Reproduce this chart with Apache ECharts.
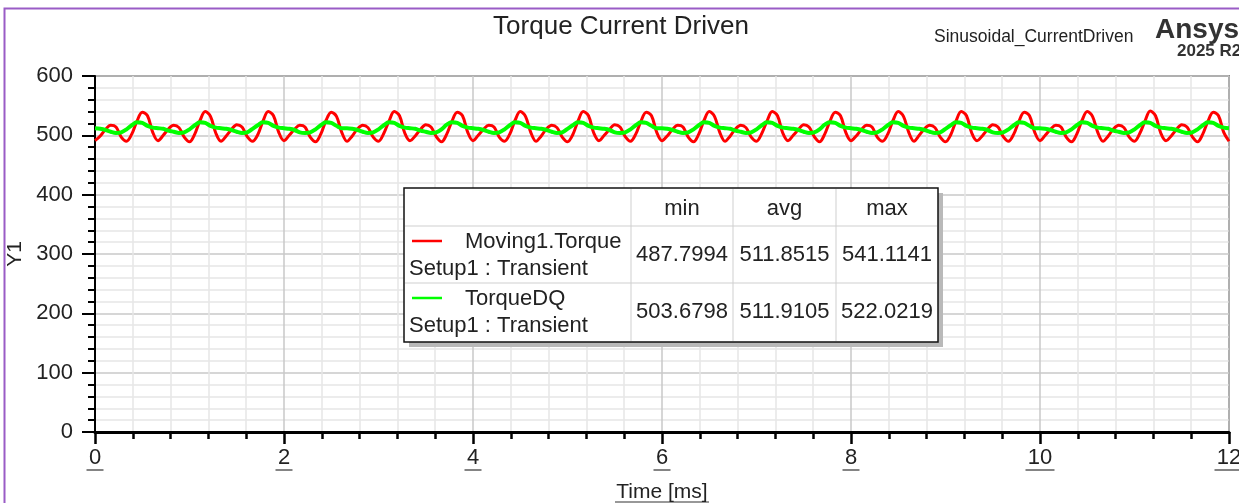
<!DOCTYPE html>
<html>
<head>
<meta charset="utf-8">
<title>Torque Current Driven</title>
<script src="https://cdn.jsdelivr.net/npm/echarts@6.0.0/dist/echarts.min.js"></script>
<style>
  html, body { margin: 0; padding: 0; background: #fff; }
  #chart { width: 1239px; height: 503px; }
</style>
</head>
<body>
<div id="chart"></div>
<script>
// samples per ms (sampling grid of the exported traces)
const samplesPerMs = 18;

// Moving1.Torque, one row per electrical period (0.667 ms)
const movingTorque = [
  491, 499, 510, 517, 514, 497, 490, 502, 524, 539, 533, 505,
  491, 500, 511, 517, 513, 497, 489, 502, 525, 540, 532, 504,
  490, 499, 510, 518, 514, 498, 490, 501, 524, 540, 533, 505,
  491, 500, 510, 517, 514, 497, 489, 502, 525, 539, 532, 505,
  490, 499, 511, 517, 513, 497, 490, 503, 524, 540, 533, 504,
  491, 499, 510, 518, 514, 498, 489, 502, 524, 539, 533, 505,
  491, 500, 510, 517, 514, 497, 490, 502, 525, 540, 532, 505,
  490, 499, 511, 517, 513, 497, 489, 501, 524, 540, 533, 504,
  491, 500, 510, 518, 514, 498, 490, 502, 524, 539, 533, 505,
  491, 499, 510, 517, 514, 497, 489, 502, 525, 540, 532, 505,
  490, 499, 511, 517, 513, 497, 490, 503, 524, 540, 533, 504,
  491, 500, 510, 518, 514, 498, 489, 502, 524, 539, 533, 505,
  491, 499, 510, 517, 514, 497, 490, 502, 525, 540, 532, 505,
  490, 500, 511, 517, 513, 497, 489, 501, 524, 540, 533, 504,
  491, 499, 510, 518, 514, 498, 490, 502, 524, 539, 533, 505,
  491, 500, 510, 517, 514, 497, 489, 502, 525, 540, 532, 505,
  490, 499, 511, 517, 513, 497, 490, 503, 524, 541, 533, 504,
  491, 499, 510, 518, 514, 498, 489, 502, 524, 539, 533, 505,
  490
];

// TorqueDQ
const torqueDQ = [
  512, 511, 509, 506, 504, 505, 510, 517, 522, 521, 516, 513,
  512, 511, 508, 506, 504, 505, 510, 517, 522, 521, 516, 513,
  512, 511, 509, 506, 504, 505, 511, 517, 522, 521, 516, 513,
  512, 511, 509, 505, 504, 505, 510, 517, 522, 521, 516, 512,
  512, 511, 509, 506, 504, 505, 510, 517, 522, 521, 516, 513,
  512, 511, 508, 506, 504, 505, 510, 518, 522, 521, 516, 513,
  512, 511, 509, 506, 504, 505, 510, 517, 522, 521, 516, 513,
  512, 511, 509, 506, 504, 505, 511, 517, 522, 521, 516, 513,
  512, 511, 509, 505, 504, 505, 510, 517, 522, 521, 516, 512,
  512, 511, 509, 506, 504, 505, 510, 517, 522, 521, 516, 513,
  512, 511, 508, 506, 504, 505, 510, 517, 522, 521, 516, 513,
  512, 511, 509, 506, 504, 505, 510, 518, 522, 521, 516, 513,
  512, 511, 509, 506, 504, 505, 510, 517, 522, 521, 516, 513,
  512, 511, 509, 506, 504, 505, 511, 517, 522, 521, 516, 513,
  512, 511, 509, 505, 504, 505, 510, 517, 522, 521, 516, 512,
  512, 511, 509, 506, 504, 505, 510, 517, 522, 521, 516, 513,
  512, 511, 508, 506, 504, 505, 510, 517, 522, 521, 516, 513,
  512, 511, 509, 506, 504, 505, 510, 517, 522, 521, 516, 513,
  512
];

const traceNames = ['Moving1.Torque', 'TorqueDQ'];
const traceColors = ['#ff0000', '#00ff00'];
const setupName = 'Setup1 : Transient';
const statHeaders = ['min', 'avg', 'max'];
const movingStats = ['487.7994', '511.8515', '541.1141'];
const dqStats = ['503.6798', '511.9105', '522.0219'];
const xMajorTicks = [0, 2, 4, 6, 8, 10, 12];

const font = '"Liberation Sans", Arial, sans-serif';

let chart = echarts.init(document.getElementById('chart'));

function toPairs(arr) {
  return arr.map((v, i) => [i / samplesPerMs, v]);
}

// legend table drawn as graphic
function buildTable() {
  const x0 = 404, y0 = 188, w = 534, h = 154;
  const cols = [631, 733, 836];
  const rows = [226, 283];
  const items = [];
  items.push({ type: 'rect', shape: { x: x0 + 5, y: y0 + 5, width: w, height: h }, style: { fill: '#b9b9b9' }, z: 10 });
  items.push({ type: 'rect', shape: { x: x0, y: y0, width: w, height: h }, style: { fill: '#fff', stroke: '#111', lineWidth: 1.5 }, z: 11 });
  cols.forEach(cx => items.push({ type: 'line', shape: { x1: cx, y1: y0 + 1, x2: cx, y2: y0 + h - 1 }, style: { stroke: '#cfcfcf', lineWidth: 1 }, z: 12 }));
  rows.forEach(ry => items.push({ type: 'line', shape: { x1: x0 + 1, y1: ry, x2: x0 + w - 1, y2: ry }, style: { stroke: '#cfcfcf', lineWidth: 1 }, z: 12 }));
  const centers = [682, 784.5, 887];
  const txt = (t, x, y, align) => ({
    type: 'text', x: x, y: y, z: 13,
    style: { text: t, fill: '#222', font: '22px ' + font, textAlign: align || 'center', textVerticalAlign: 'middle' }
  });
  statHeaders.forEach((t, i) => items.push(txt(t, centers[i], 209)));
  const rowInfo = [
    { name: traceNames[0], color: traceColors[0], stats: movingStats, top: 226 },
    { name: traceNames[1], color: traceColors[1], stats: dqStats, top: 283 }
  ];
  rowInfo.forEach(r => {
    items.push({ type: 'line', shape: { x1: 412, y1: r.top + 15, x2: 442, y2: r.top + 15 }, style: { stroke: r.color, lineWidth: 2.5 }, z: 13 });
    items.push(txt(r.name, 465, r.top + 16, 'left'));
    items.push(txt(setupName, 409, r.top + 43, 'left'));
    r.stats.forEach((s, i) => items.push(txt(s, centers[i], r.top + 29)));
  });
  return items;
}

const option = {
  animation: false,
  backgroundColor: '#fff',
  title: {
    text: 'Torque Current Driven',
    left: 616,
    top: 9,
    textAlign: 'center',
    textStyle: { fontFamily: font, fontSize: 26, fontWeight: 'normal', color: '#222' }
  },
  grid: {
    left: 95, right: 10, top: 76, bottom: 71,
    outerBoundsMode: 'none',
    containLabel: false,
    show: true, borderColor: '#333', borderWidth: 1.5, backgroundColor: 'transparent'
  },
  xAxis: {
    type: 'value',
    min: 0, max: 12, interval: 2,
    name: 'Time [ms]',
    nameLocation: 'middle',
    nameGap: 50,
    nameTextStyle: { fontFamily: font, fontSize: 21, color: '#222' },
    axisLine: { onZero: false, lineStyle: { color: '#000', width: 3 } },
    axisTick: { show: true, length: 12, lineStyle: { color: '#000', width: 2.5 } },
    minorTick: { show: true, splitNumber: 5, length: 7, lineStyle: { color: '#000', width: 2.5 } },
    axisLabel: { margin: 15, fontFamily: font, fontSize: 22, color: '#222' },
    splitLine: { show: true, lineStyle: { color: '#c8c8c8', width: 1.5 } },
    minorSplitLine: { show: true, lineStyle: { color: '#e6e6e6', width: 1.5 } }
  },
  yAxis: {
    type: 'value',
    min: 0, max: 600, interval: 100,
    name: 'Y1',
    nameLocation: 'middle',
    nameGap: 58,
    nameRotate: 90,
    nameTextStyle: { fontFamily: font, fontSize: 21, color: '#222' },
    axisLine: { show: true, onZero: false, lineStyle: { color: '#000', width: 2 } },
    axisTick: { show: true, length: 13, lineStyle: { color: '#000', width: 2 } },
    minorTick: { show: true, splitNumber: 5, length: 7, lineStyle: { color: '#000', width: 2 } },
    axisLabel: { margin: 22, fontFamily: font, fontSize: 22, color: '#222', padding: [5, 0, 0, 0] },
    splitLine: { show: true, lineStyle: { color: '#c8c8c8', width: 1.5 } },
    minorSplitLine: { show: true, lineStyle: { color: '#e6e6e6', width: 1.5 } }
  },
  series: [
    {
      name: traceNames[0], type: 'line', data: toPairs(movingTorque),
      showSymbol: false, smooth: 0.35, z: 3,
      lineStyle: { color: traceColors[0], width: 3 }
    },
    {
      name: traceNames[1], type: 'line', data: toPairs(torqueDQ),
      showSymbol: false, smooth: 0.35, z: 4,
      lineStyle: { color: traceColors[1], width: 4 }
    }
  ],
  graphic: []
};

chart.setOption(option);

// underlines under x tick labels and axis name, placed via the axis scale
const extras = [];
xMajorTicks.forEach(v => {
  const px = chart.convertToPixel({ xAxisIndex: 0 }, v);
  const hw = (String(v).length * 12 + 5) / 2;
  extras.push({ type: 'line', shape: { x1: px - hw, y1: 470, x2: px + hw, y2: 470 }, style: { stroke: '#333', lineWidth: 1.2 } });
});
const midPx = chart.convertToPixel({ xAxisIndex: 0 }, 6);
extras.push({ type: 'line', shape: { x1: midPx - 47, y1: 502, x2: midPx + 47, y2: 502 }, style: { stroke: '#333', lineWidth: 1.2 } });

// frame and header texts
extras.push({ type: 'rect', shape: { x: 4.5, y: 8.5, width: 1400, height: 600 }, style: { fill: 'none', stroke: '#9a5cc6', lineWidth: 2 } });
extras.push({ type: 'text', x: 934, y: 37, style: { text: 'Sinusoidal_CurrentDriven', font: '17.5px ' + font, fill: '#222', textVerticalAlign: 'middle' } });
extras.push({ type: 'text', x: 1155, y: 30, style: { text: 'Ansys', font: 'bold 28px ' + font, fill: '#333', textVerticalAlign: 'middle' } });
extras.push({ type: 'text', x: 1177, y: 51, style: { text: '2025 R2', font: 'bold 17px ' + font, fill: '#333', textVerticalAlign: 'middle' } });

chart.setOption({ graphic: extras.concat(buildTable()) });
</script>
</body>
</html>
